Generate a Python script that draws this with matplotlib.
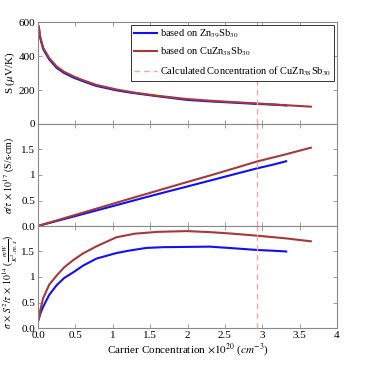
import matplotlib
matplotlib.use("Agg")
import matplotlib.pyplot as plt
import numpy as np

plt.rcParams['font.family'] = ['Liberation Serif', 'DejaVu Serif']
plt.rcParams['mathtext.fontset'] = 'stix'

# ---- data ----
x_blue = [0.01, 0.03, 0.07, 0.15, 0.25, 0.35, 0.47, 0.6, 0.78, 1.05, 1.23, 1.45, 1.68, 1.99, 2.3, 2.6, 2.93, 3.15, 3.32]
S_blue = [570, 505, 440, 380, 330, 300, 274, 252, 224, 198, 185, 172, 159, 142, 133, 126, 118, 114, 109]
sig_blue = [0.004, 0.012, 0.028, 0.059, 0.098, 0.137, 0.183, 0.234, 0.304, 0.409, 0.480, 0.567, 0.655, 0.772, 0.890, 1.005, 1.13, 1.205, 1.27]
pf_blue = [0.17, 0.28, 0.42, 0.65, 0.84, 0.98, 1.09, 1.22, 1.36, 1.47, 1.52, 1.57, 1.585, 1.59, 1.595, 1.565, 1.53, 1.515, 1.50]

x_red = [0.01, 0.03, 0.07, 0.15, 0.25, 0.35, 0.47, 0.6, 0.78, 1.05, 1.3, 1.6, 1.99, 2.3, 2.6, 2.93, 3.3, 3.65]
S_red = [575, 512, 448, 388, 338, 307, 281, 258, 230, 203, 184, 166, 147, 137, 129, 121, 111, 102]
sig_red = [0.004, 0.013, 0.031, 0.066, 0.109, 0.153, 0.205, 0.262, 0.340, 0.457, 0.565, 0.693, 0.86, 0.99, 1.12, 1.265, 1.40, 1.535]
pf_red = [0.17, 0.35, 0.59, 0.85, 1.03, 1.19, 1.33, 1.46, 1.60, 1.78, 1.85, 1.885, 1.90, 1.88, 1.85, 1.81, 1.76, 1.70]

x_calc = 2.93

labels = ['based on Zn$_{39}$Sb$_{30}$', 'based on CuZn$_{38}$Sb$_{30}$',
          'Calculated Concentration of CuZn$_{38}$Sb$_{30}$']
xticks = [0, 0.5, 1, 1.5, 2, 2.5, 3, 3.5, 4]
xticklabels = ['0.0', '0.5', '1', '1.5', '2', '2.5', '3', '3.5', '4']

c_blue = '#1010f0'
c_red = '#a33a3a'
c_dash = '#f5a5a5'
c_spine = '#8a8a8a'

fig = plt.figure(figsize=(3.74, 3.65), dpi=100)
L, R = 38/374, 337/374
top_px, bot_px = 22, 328
h = (bot_px - top_px) / 3
axes = []
for i in range(3):
    y0 = 1 - (top_px + (i+1)*h) / 365
    ax = fig.add_axes([L, y0, R-L, h/365])
    axes.append(ax)

def style(ax):
    for s in ax.spines.values():
        s.set_color(c_spine)
        s.set_linewidth(0.8)
    ax.tick_params(direction='in', top=True, right=True, length=3, width=0.6,
                   color=c_spine, labelsize=8, pad=2)
    ax.set_xlim(0, 4)
    ax.set_xticks(xticks)

ax1, ax2, ax3 = axes
lw = 1.5
ax1.plot(x_blue, S_blue, color=c_blue, lw=lw, label=labels[0])
ax1.plot(x_red, S_red, color=c_red, lw=lw, label=labels[1])
ax1.axvline(x_calc, color=c_dash, lw=1, ls=(0, (4, 3)), label=labels[2])
ax1.set_ylim(0, 600)
ax1.set_yticks([0, 200, 400, 600])
ax1.set_yticklabels(['0', '200', '400', '600'])
ax1.set_ylabel(r'S ($\mu$V/K)', fontsize=8)
leg = ax1.legend(loc='upper right', fontsize=7.5, frameon=True, fancybox=False,
                 edgecolor='#333333', framealpha=1, handlelength=2.2,
                 borderaxespad=0.25, handletextpad=0.3, labelspacing=0.55,
                 borderpad=0.3)
leg.get_frame().set_linewidth(0.7)

ax2.plot(x_blue, sig_blue, color=c_blue, lw=lw)
ax2.plot(x_red, sig_red, color=c_red, lw=lw)
ax2.axvline(x_calc, color=c_dash, lw=1, ls=(0, (4, 3)))
ax2.set_ylim(0, 2)
ax2.set_yticks([0, 0.5, 1, 1.5, 2])
ax2.set_yticklabels(['0.0', '0.5', '1', '1.5', ''])
ax2.set_ylabel(r'$\sigma/\tau\,\times\,10^{17}$ (S/s$\cdot$cm)', fontsize=7)

ax3.plot(x_blue, pf_blue, color=c_blue, lw=lw)
ax3.plot(x_red, pf_red, color=c_red, lw=lw)
ax3.axvline(x_calc, color=c_dash, lw=1, ls=(0, (4, 3)))
ax3.set_ylim(0, 2)
ax3.set_yticks([0, 0.5, 1, 1.5, 2])
ax3.set_yticklabels(['0.0', '0.5', '1', '1.5', ''])
ax3.set_ylabel(r'$\sigma\,\times\,S^2/\tau\,\times\,10^{14}$ ($\frac{mW}{K^2.m.s}$)', fontsize=7)
ax3.set_xlabel(r'Carrier Concentration $\times10^{20}$ ($cm^{-3}$)', fontsize=8, labelpad=1)

for ax in axes:
    style(ax)
ax1.set_xticklabels([])
ax2.set_xticklabels([])
ax3.set_xticklabels(xticklabels)

ax1.yaxis.set_label_coords(-0.07, 0.5)
ax2.yaxis.set_label_coords(-0.07, 0.5)
ax3.yaxis.set_label_coords(-0.06, 0.45)

fig.savefig('out.png', dpi=100)
